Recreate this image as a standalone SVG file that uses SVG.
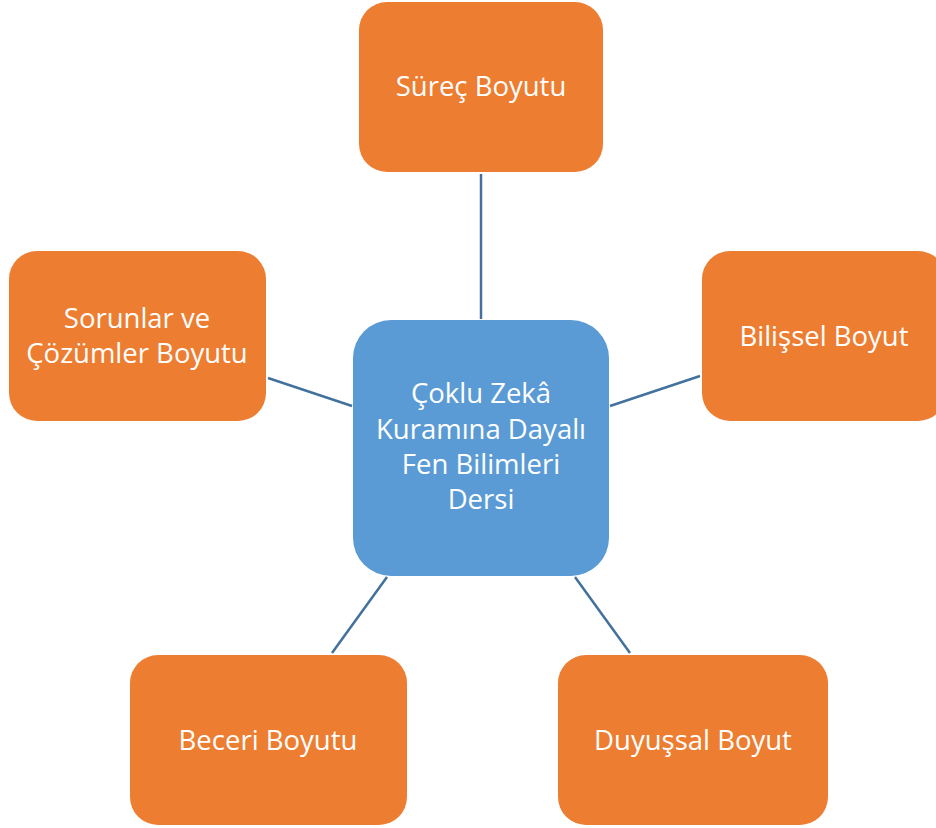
<svg xmlns="http://www.w3.org/2000/svg" width="936" height="828" viewBox="0 0 936 828">
<style>
.o{fill:#ED7D31}
.b{fill:#5B9BD5}
.t{font-family:"Open Sans","Liberation Sans",sans-serif;font-size:27.5px;fill:#fff;text-anchor:middle}
.c line{stroke:#41719C;stroke-width:2.5}
</style>
<rect width="936" height="828" fill="#fff"/>
<g class="c" id="connectors">
<line x1="481" y1="174" x2="481" y2="319"/>
<line x1="268" y1="378" x2="352" y2="406"/>
<line x1="610" y1="406" x2="700" y2="376"/>
<line x1="387" y1="577" x2="332" y2="653"/>
<line x1="575" y1="577" x2="630" y2="653"/>
</g>
<g id="center">
<rect class="b" x="353" y="320" width="256" height="256" rx="38"/>
<text class="t" x="481" y="403">Çoklu Zekâ</text>
<text class="t" x="481" y="439">Kuramına Dayalı</text>
<text class="t" x="481" y="474">Fen Bilimleri</text>
<text class="t" x="481" y="509">Dersi</text>
</g>
<g id="surec">
<rect class="o" x="359" y="2" width="244" height="170" rx="28"/>
<text class="t" x="481" y="96">Süreç Boyutu</text>
</g>
<g id="sorunlar">
<rect class="o" x="9" y="251" width="257" height="170" rx="28"/>
<text class="t" x="137" y="328">Sorunlar ve</text>
<text class="t" x="137" y="363">Çözümler Boyutu</text>
</g>
<g id="bilissel">
<rect class="o" x="702" y="251" width="244" height="170" rx="28"/>
<text class="t" x="824" y="346">Bilişsel Boyut</text>
</g>
<g id="beceri">
<rect class="o" x="130" y="655" width="277" height="170" rx="28"/>
<text class="t" x="268" y="750">Beceri Boyutu</text>
</g>
<g id="duyussal">
<rect class="o" x="558" y="655" width="270" height="170" rx="28"/>
<text class="t" x="693" y="750">Duyuşsal Boyut</text>
</g>
</svg>
